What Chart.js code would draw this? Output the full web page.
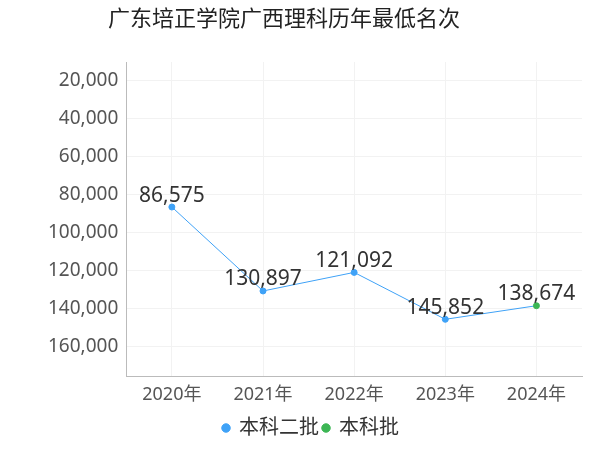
<!DOCTYPE html>
<html><head><meta charset="utf-8">
<script src="https://cdn.jsdelivr.net/npm/chart.js@4"></script>
<style>body{margin:0;background:#fff}#w{width:600px;height:450px}</style>
</head><body><div id="w"><canvas id="c"></canvas></div>
<script>
const years = ['2020年', '2021年', '2022年', '2023年', '2024年'];
const erpi = [86575, 130897, 121092, 145852, 138674];
const benke = [null, null, null, null, 138674];
const yTicks = [20000, 40000, 60000, 80000, 100000, 120000, 140000, 160000];
const titleText = '广东培正学院广西理科历年最低名次';
const font = "'Noto Sans', 'Noto Sans CJK SC', sans-serif";

const labelPlugin = {
    id: 'labels',
    afterDatasetsDraw(chart) {
        const ctx = chart.ctx;
        const meta = chart.getDatasetMeta(0);
        ctx.save();
        ctx.font = '21px ' + font;
        ctx.fillStyle = '#333';
        ctx.textAlign = 'center';
        ctx.textBaseline = 'bottom';
        meta.data.forEach((p, i) => {
            ctx.fillText(erpi[i].toLocaleString('en-US'), p.x, p.y - 1);
        });
        // title
        ctx.font = '22px ' + font;
        ctx.fillStyle = '#222';
        ctx.textAlign = 'left';
        ctx.textBaseline = 'middle';
        ctx.fillText(titleText, 108, 20);
        ctx.restore();
    }
};

new Chart(document.getElementById('c'), {
    type: 'line',
    data: {
        labels: years,
        datasets: [{
            label: '本科二批',
            data: erpi,
            borderColor: '#3fa2f7',
            backgroundColor: '#3fa2f7',
            borderWidth: 1,
            pointRadius: [3, 3, 3, 3, 0],
            order: 2
        }, {
            label: '本科批',
            data: benke,
            borderColor: '#3cb654',
            backgroundColor: '#3cb654',
            pointRadius: 3,
            order: 1
        }]
    },
    options: {
        responsive: true,
        maintainAspectRatio: false,
        animation: false,
        layout: { padding: { left: 40, right: 18, top: 62, bottom: 2 } },
        plugins: {
            legend: {
                position: 'bottom',
                labels: { usePointStyle: true, pointStyle: 'circle', boxWidth: 6, boxHeight: 6, color: '#333',
                    font: { family: font, size: 20 }, padding: 4,
                    sort: (a, b) => a.datasetIndex - b.datasetIndex }
            },
            tooltip: { enabled: false }
        },
        scales: {
            x: {
                offset: true,
                grid: { color: '#f2f2f2', drawTicks: false },
                border: { color: '#bbb' },
                ticks: { color: '#555', font: { family: font, size: 18 }, padding: 8 }
            },
            y: {
                reverse: true, min: 10000, max: 176000,
                afterBuildTicks(ax) { ax.ticks = yTicks.map(v => ({ value: v })); },
                grid: { color: '#f2f2f2', drawTicks: false },
                border: { color: '#bbb' },
                ticks: { color: '#555', font: { family: font, size: 19 }, padding: 8,
                    callback: v => v.toLocaleString('en-US') }
            }
        }
    },
    plugins: [labelPlugin]
});
</script></body></html>
